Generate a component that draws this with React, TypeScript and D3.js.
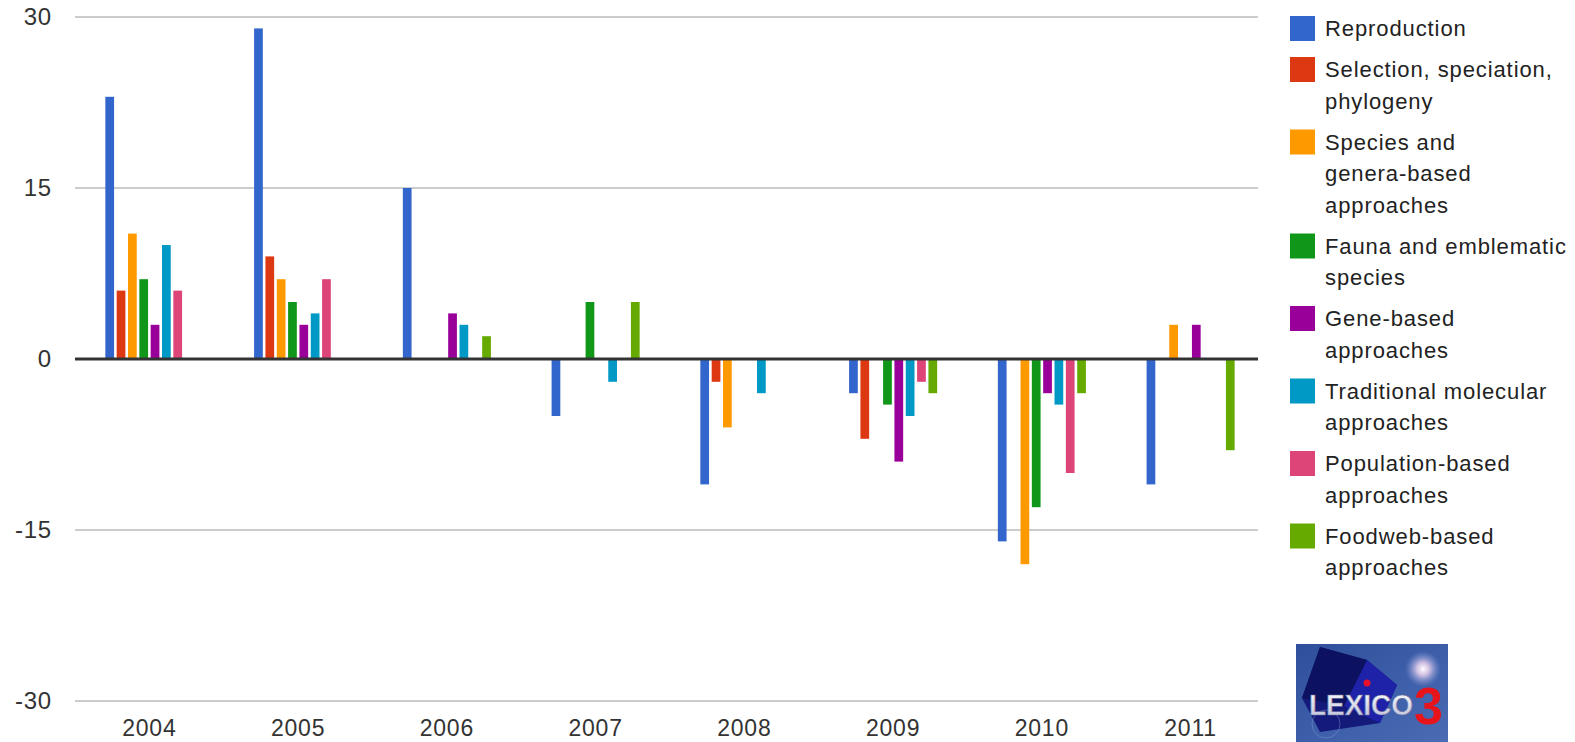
import React from 'react';
import * as d3 from 'd3';

const W = 1575;
const H = 742;

// categories
const years = ['2004', '2005', '2006', '2007', '2008', '2009', '2010', '2011'];

// series values, one array per series, one value per year
const reproduction = [23, 29, 15, -5, -11, -3, -16, -11];
const selection = [6, 9, 0, 0, -2, -7, 0, 0];
const speciesGenera = [11, 7, 0, 0, -6, 0, -18, 3];
const fauna = [7, 5, 0, 5, 0, -4, -13, 0];
const geneBased = [3, 3, 4, 0, 0, -9, -3, 3];
const traditional = [10, 4, 3, -2, -3, -5, -4, 0];
const population = [6, 7, 0, 0, 0, -2, -10, 0];
const foodweb = [0, 0, 2, 5, 0, -3, -3, -8];

const yTicks = [30, 15, 0, -15, -30];

// legend labels, already wrapped like the picture
const seriesNames = [
  ['Reproduction'],
  ['Selection, speciation,', 'phylogeny'],
  ['Species and', 'genera-based', 'approaches'],
  ['Fauna and emblematic', 'species'],
  ['Gene-based', 'approaches'],
  ['Traditional molecular', 'approaches'],
  ['Population-based', 'approaches'],
  ['Foodweb-based', 'approaches'],
];
const colors = ['#3366cc', '#dc3912', '#ff9900', '#109618', '#990099', '#0099c6', '#dd4477', '#66aa00'];

const allSeries = [reproduction, selection, speciesGenera, fauna, geneBased, traditional, population, foodweb];

const margin = { left: 75, right: 1258, top: 17, bottom: 701 };
const font = 'Arial, "Liberation Sans", sans-serif';

function Logo({ x, y }: { x: number; y: number }) {
  return (
    <g transform={`translate(${x},${y})`}>
      <defs>
        <linearGradient id="logoBg" x1="0" y1="0" x2="1" y2="1">
          <stop offset="0" stopColor="#2f4f9c" />
          <stop offset="1" stopColor="#4a6cb4" />
        </linearGradient>
        <radialGradient id="flare">
          <stop offset="0" stopColor="#ffffff" stopOpacity="1" />
          <stop offset="0.35" stopColor="#f4d8f0" stopOpacity="0.8" />
          <stop offset="1" stopColor="#8aa0dd" stopOpacity="0" />
        </radialGradient>
        <linearGradient id="lexText" x1="0" y1="0" x2="0" y2="1">
          <stop offset="0" stopColor="#ffffff" />
          <stop offset="1" stopColor="#b8bcd8" />
        </linearGradient>
      </defs>
      <rect width={152} height={98} fill="url(#logoBg)" />
      <polygon points="24,3 71,16 101,41 84,79 24,88 6,54" fill="#141a7a" />
      <polygon points="71,16 101,41 84,79 48,62" fill="#1e22a8" />
      <polygon points="24,3 71,16 48,62 6,54" fill="#0d1260" />
      <circle cx={127} cy={25} r={18} fill="url(#flare)" />
      <circle cx={30} cy={80} r={14} fill="none" stroke="#8fa4e0" strokeOpacity={0.4} />
      <circle cx={71} cy={39} r={3.5} fill="#e8102a" />
      <text x={13} y={71} fontFamily={font} fontWeight="bold" fontSize={29}
        fill="url(#lexText)" stroke="#6a6e9a" strokeWidth={0.6} textLength={104}
        lengthAdjust="spacingAndGlyphs">LEXICO</text>
      <text x={118} y={80} fontFamily={font} fontWeight="bold" fontSize={52} fill="#e8141c">3</text>
    </g>
  );
}

export default function App() {
  const y = d3.scaleLinear().domain([-30, 30]).range([margin.bottom, margin.top]);
  const x0 = d3.scaleBand<string>()
    .domain(years)
    .range([75, 1265])
    .paddingInner(0.408)
    .paddingOuter(0.204);
  const x1 = d3.scaleBand<number>()
    .domain(d3.range(allSeries.length))
    .range([0, x0.bandwidth()])
    .paddingInner(0.23);

  // legend layout: 31.5px per text line, 9.5px between items
  let cursor = 16;
  const legendItems = seriesNames.map((lines, i) => {
    const top = cursor;
    cursor += lines.length * 31.5 + 9.5;
    return { lines, top, color: colors[i] };
  });

  return (
    <svg width={W} height={H} style={{ position: 'absolute', left: 0, top: 0, background: '#fff' }}>
      {/* gridlines */}
      {yTicks.filter(t => t !== 0).map(t => (
        <line key={t} x1={margin.left} x2={margin.right} y1={y(t)} y2={y(t)} stroke="#cccccc" strokeWidth={2} />
      ))}
      {yTicks.map(t => (
        <text key={'l' + t} x={52} y={y(t)} dy="0.35em" textAnchor="end" fontFamily={font}
          fontSize={24} letterSpacing={0.8} fill="#333">{t}</text>
      ))}

      {/* bars */}
      {years.map((yr, gi) => (
        <g key={yr} transform={`translate(${x0(yr)},0)`}>
          {allSeries.map((s, si) => s[gi] === 0 ? null : (
            <rect key={si}
              x={x1(si)}
              width={x1.bandwidth()}
              y={y(Math.max(0, s[gi]))}
              height={Math.abs(y(s[gi]) - y(0))}
              fill={colors[si]} />
          ))}
        </g>
      ))}

      {/* zero baseline */}
      <line x1={margin.left} x2={margin.right} y1={y(0)} y2={y(0)} stroke="#333" strokeWidth={3} />

      {/* x labels */}
      {years.map(yr => (
        <text key={yr} x={x0(yr)! + x0.bandwidth() / 2} y={736} textAnchor="middle" fontFamily={font}
          fontSize={23} letterSpacing={0.8} fill="#333">{yr}</text>
      ))}

      {/* legend */}
      {legendItems.map(item => (
        <g key={item.lines[0]}>
          <rect x={1290} y={item.top} width={25} height={25} fill={item.color} />
          {item.lines.map((ln, li) => (
            <text key={li} x={1325} y={item.top + 20 + li * 31.5} fontFamily={font} fontSize={22}
              letterSpacing={0.9} fill="#222">{ln}</text>
          ))}
        </g>
      ))}

      <Logo x={1296} y={644} />
    </svg>
  );
}
